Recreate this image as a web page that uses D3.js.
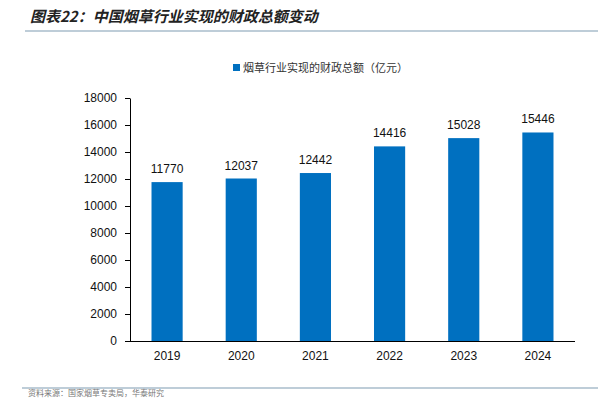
<!DOCTYPE html>
<html>
<head>
<meta charset="utf-8">
<script src="https://cdn.jsdelivr.net/npm/d3@7"></script>
<style>
  body { margin: 0; background: #fff; }
  svg { display: block; }
</style>
</head>
<body>
<div id="chart"></div>
<script>
// data
var years = ['2019', '2020', '2021', '2022', '2023', '2024'];
var revenue = [11770, 12037, 12442, 14416, 15028, 15446];
var yTicks = [0, 2000, 4000, 6000, 8000, 10000, 12000, 14000, 16000, 18000];
var seriesName = '烟草行业实现的财政总额（亿元）';
var titleText = '图表22：中国烟草行业实现的财政总额变动';

var width = 604, height = 399;
var svg = d3.select('#chart').append('svg')
    .attr('width', width)
    .attr('height', height);

var cn = '"Noto Sans CJK SC", sans-serif';
var num = '"Liberation Sans", Arial, sans-serif';

// title + rule under it
svg.append('text')
    .attr('x', 30).attr('y', 22)
    .style('font-family', cn)
    .style('font-size', '15px')
    .style('font-weight', 'bold')
    .style('font-style', 'italic')
    .style('fill', '#222')
    .text(titleText);
svg.append('line')
    .attr('x1', 25).attr('x2', 598)
    .attr('y1', 31).attr('y2', 31)
    .style('stroke', '#a9bccb').style('stroke-width', 1.5);

// legend
svg.append('rect')
    .attr('x', 233).attr('y', 64)
    .attr('width', 7).attr('height', 7)
    .style('fill', '#0070C0');
svg.append('text')
    .attr('x', 243).attr('y', 72)
    .style('font-family', cn)
    .style('font-size', '11px')
    .style('fill', '#333')
    .text(seriesName);

var x = d3.scaleBand().domain(years).range([130, 575]).paddingInner(0.58).paddingOuter(0.29);
var y = d3.scaleLinear().domain([0, 18000]).range([341, 98]);

// y axis
var yAxis = svg.append('g')
    .attr('transform', 'translate(130,0)')
    .call(d3.axisLeft(y).tickValues(yTicks).tickFormat(d3.format('d')).tickSize(5).tickSizeOuter(0).tickPadding(8));
yAxis.select('.domain').style('stroke', '#000');
yAxis.selectAll('.tick line').style('stroke', '#000');
yAxis.selectAll('text')
    .style('font-family', num).style('font-size', '12px').style('fill', '#111');

// bars
svg.selectAll('.bar')
    .data(revenue)
    .enter()
    .append('rect')
    .attr('class', 'bar')
    .attr('x', function(d, i) { return x(years[i]); })
    .attr('y', function(d) { return y(d); })
    .attr('width', x.bandwidth())
    .attr('height', function(d) { return y(0) - y(d); })
    .style('fill', '#0070C0');

// value labels
svg.selectAll('.val')
    .data(revenue)
    .enter()
    .append('text')
    .attr('class', 'val')
    .attr('x', function(d, i) { return x(years[i]) + x.bandwidth() / 2; })
    .attr('y', function(d) { return y(d) - 9; })
    .attr('text-anchor', 'middle')
    .style('font-family', num).style('font-size', '12px').style('fill', '#111')
    .text(function(d) { return d; });

// x axis
var xAxis = svg.append('g')
    .attr('transform', 'translate(0,341)')
    .call(d3.axisBottom(x).tickSize(0).tickPadding(10));
xAxis.select('.domain').attr('d', 'M130,0.5H575').style('stroke', '#000');
xAxis.selectAll('text')
    .style('font-family', num).style('font-size', '12px').style('fill', '#111');

// bottom rule + source line
svg.append('line')
    .attr('x1', 22).attr('x2', 598)
    .attr('y1', 388).attr('y2', 388)
    .style('stroke', '#a9bccb').style('stroke-width', 1.5);
svg.append('text')
    .attr('x', 28).attr('y', 395.5)
    .style('font-family', cn)
    .style('font-size', '8px')
    .style('fill', '#777')
    .text('资料来源：国家烟草专卖局，华泰研究');
</script>
</body>
</html>
